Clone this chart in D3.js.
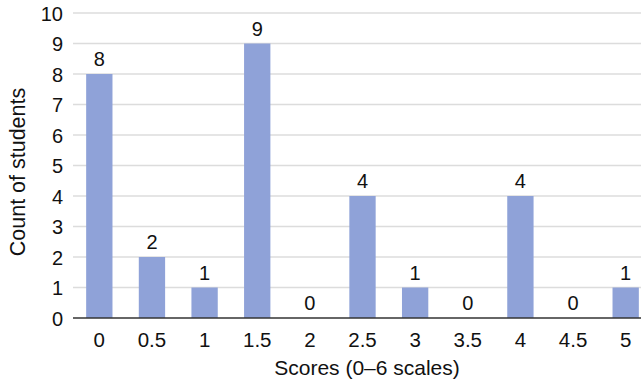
<!DOCTYPE html>
<html>
<head>
<meta charset="utf-8">
<script src="https://cdn.jsdelivr.net/npm/d3@7"></script>
<style>
  html, body { margin: 0; padding: 0; background: #fff; }
  svg { display: block; font-family: "Liberation Sans", Arial, Helvetica, sans-serif; }
</style>
</head>
<body>
<svg id="chart" width="641" height="382"></svg>
<script>
// Score categories and how many students got each score
const scores = ["0", "0.5", "1", "1.5", "2", "2.5", "3", "3.5", "4", "4.5", "5"];
const counts = [8, 2, 1, 9, 0, 4, 1, 0, 4, 0, 1];
const yTicks = [0, 1, 2, 3, 4, 5, 6, 7, 8, 9, 10];

const svg = d3.select("#chart");
const W = 641;

const x = d3.scaleBand().domain(scores).range([73, 652]).paddingInner(0.5).paddingOuter(0.25);
const y = d3.scaleLinear().domain([0, 10]).range([318, 13]);

// horizontal grid lines
svg.append("g")
  .selectAll("line")
  .data(yTicks.filter(d => d > 0))
  .join("line")
  .attr("x1", 73).attr("x2", W)
  .attr("y1", d => y(d)).attr("y2", d => y(d))
  .attr("stroke", "#dcdcdc").attr("stroke-width", 1.5);

// bars
svg.append("g")
  .selectAll("rect")
  .data(counts)
  .join("rect")
  .attr("x", (d, i) => x(scores[i]))
  .attr("width", x.bandwidth())
  .attr("y", d => y(d))
  .attr("height", d => y(0) - y(d))
  .attr("fill", "#8fa2d8");

// value labels above bars
svg.append("g")
  .selectAll("text")
  .data(counts)
  .join("text")
  .attr("x", (d, i) => x(scores[i]) + x.bandwidth() / 2)
  .attr("y", d => y(d) - 8)
  .attr("text-anchor", "middle")
  .attr("font-size", 20)
  .attr("fill", "#111")
  .text(d => d);

// y axis labels
const yAxis = d3.axisLeft(y).tickValues(yTicks).tickSize(0).tickPadding(10);
const gy = svg.append("g").attr("transform", "translate(73,0)").call(yAxis);
gy.select(".domain").remove();
gy.selectAll("text").attr("font-size", 20).attr("fill", "#111").attr("font-family", null).attr("dy", "0.36em");

// x axis with baseline
const xAxis = d3.axisBottom(x).tickSize(0).tickPadding(14);
const gx = svg.append("g").attr("transform", "translate(0,318)").call(xAxis);
gx.select(".domain").remove();
gx.selectAll("text").attr("font-size", 20.5).attr("fill", "#111").attr("font-family", null);
svg.append("line")
  .attr("x1", 73).attr("x2", W)
  .attr("y1", y(0)).attr("y2", y(0))
  .attr("stroke", "#333").attr("stroke-width", 1.5);

// axis titles
svg.append("text")
  .attr("x", 367).attr("y", 375)
  .attr("text-anchor", "middle")
  .attr("font-size", 21).attr("fill", "#111")
  .text("Scores (0–6 scales)");

svg.append("text")
  .attr("transform", "translate(25,172) rotate(-90)")
  .attr("text-anchor", "middle")
  .attr("font-size", 21.5).attr("fill", "#111")
  .text("Count of students");
</script>
</body>
</html>
